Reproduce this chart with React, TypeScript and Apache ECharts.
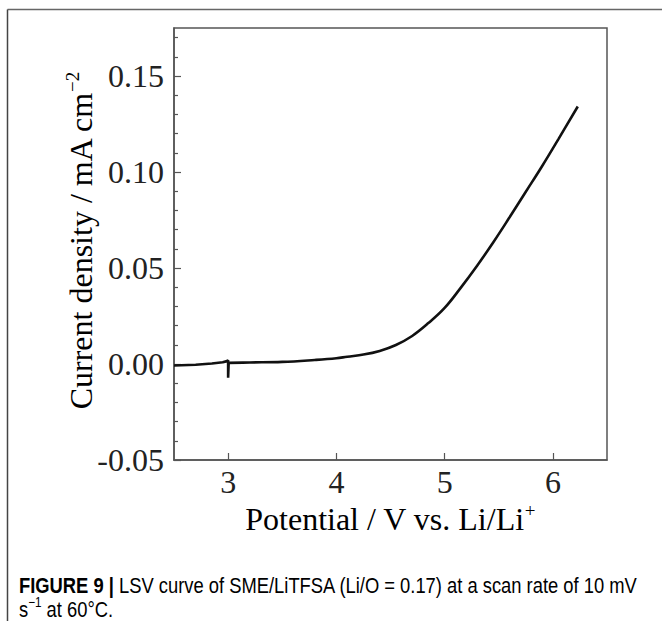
import React, { useEffect, useRef } from "react";
import * as echarts from "echarts";

// Potential (V vs. Li/Li+) and current density (mA cm^-2)
const potential = [
  2.5, 2.7, 2.85, 2.95, 2.99, 3.0, 3.0, 3.005, 3.2, 3.5, 3.8, 4.0, 4.1, 4.25,
  4.4, 4.55, 4.7, 4.85, 5.0, 5.15, 5.3, 5.45, 5.6, 5.75, 5.9, 6.05, 6.23,
];
const current = [
  -0.0008, -0.0004, 0.0003, 0.0009, 0.0015, 0.002, -0.0072, 0.0006, 0.0008,
  0.0011, 0.0021, 0.003, 0.0038, 0.0049, 0.0068, 0.0099, 0.0146, 0.0213,
  0.0292, 0.0398, 0.0512, 0.0634, 0.0764, 0.0897, 0.103, 0.117, 0.1341,
];
// index of the first point after the spike at 3 V (the curve is smooth from there on)
const SPIKE_END = 7;

const xTickValues = [3, 4, 5, 6];
const yTickValues = [-0.05, 0, 0.05, 0.1, 0.15];
const yMinorTickValues = [
  -0.04, -0.03, -0.02, -0.01, 0.01, 0.02, 0.03, 0.04, 0.06, 0.07, 0.08, 0.09,
  0.11, 0.12, 0.13, 0.14, 0.16, 0.17,
];

const xTitle = "Potential / V vs. Li/Li";
const xTitleSup = "+";
const yTitle = "Current density / mA cm";
const yTitleSup = "\u22122";
const captionBold = "FIGURE 9 |";
const captionLine1 = " LSV curve of SME/LiTFSA (Li/O = 0.17) at a scan rate of 10 mV";
const captionLine2a = "s";
const captionLine2Sup = "\u22121";
const captionLine2b = " at 60°C.";

const SERIF = "'Liberation Serif', 'Times New Roman', serif";
const SANS = "'Liberation Sans', Arial, sans-serif";
const AXIS_COLOR = "#555";
const CAPTION_SCALE_X = 0.835;

export default function App() {
  const ref = useRef<HTMLDivElement>(null);

  useEffect(() => {
    if (!ref.current) return;
    const chart = echarts.init(ref.current, null, { renderer: "svg" });
    const data = potential.map((p, i) => [p, current[i]]);
    const lineStyle = { color: "#111", width: 2.6 };

    chart.setOption({
      animation: false,
      backgroundColor: "#ffffff",
      grid: {
        left: 174,
        right: 55,
        top: 28,
        bottom: 161,
        show: true,
        borderColor: AXIS_COLOR,
        borderWidth: 1.5,
        backgroundColor: "transparent",
      },
      xAxis: {
        type: "value",
        min: 2.5,
        max: 6.5,
        axisLine: { show: true, onZero: false, lineStyle: { color: AXIS_COLOR, width: 1.5 } },
        axisTick: {
          show: true,
          inside: true,
          length: 7,
          customValues: xTickValues,
          lineStyle: { color: AXIS_COLOR, width: 1.2 },
        },
        axisLabel: {
          customValues: xTickValues,
          margin: 6,
          fontFamily: SERIF,
          fontSize: 32,
          color: "#222",
        },
        splitLine: { show: false },
      },
      yAxis: [
        {
          type: "value",
          position: "left",
          min: -0.05,
          max: 0.175,
          axisLine: { show: true, onZero: false, lineStyle: { color: AXIS_COLOR, width: 1.5 } },
          axisTick: {
            show: true,
            inside: true,
            length: 7,
            customValues: yTickValues,
            lineStyle: { color: AXIS_COLOR, width: 1.2 },
          },
          axisLabel: {
            customValues: yTickValues,
            margin: 10,
            fontFamily: SERIF,
            fontSize: 32,
            color: "#222",
            formatter: (v: number) => v.toFixed(2),
          },
          splitLine: { show: false },
        },
        {
          type: "value",
          position: "left",
          min: -0.05,
          max: 0.175,
          axisLine: { show: false },
          axisTick: {
            show: true,
            inside: true,
            length: 4,
            customValues: yMinorTickValues,
            lineStyle: { color: AXIS_COLOR, width: 1.2 },
          },
          axisLabel: { show: false },
          splitLine: { show: false },
        },
      ],
      series: [
        {
          type: "line",
          data: data.slice(0, SPIKE_END + 1),
          xAxisIndex: 0,
          yAxisIndex: 0,
          showSymbol: false,
          smooth: false,
          lineStyle,
        },
        {
          type: "line",
          data: data.slice(SPIKE_END),
          xAxisIndex: 0,
          yAxisIndex: 0,
          showSymbol: false,
          smooth: 0.4,
          lineStyle,
        },
      ],
      graphic: [
        {
          type: "line",
          shape: { x1: 7.5, y1: 9.5, x2: 662, y2: 9.5 },
          style: { stroke: "#666", lineWidth: 1.5 },
        },
        {
          type: "line",
          shape: { x1: 7.5, y1: 9.5, x2: 7.5, y2: 621 },
          style: { stroke: "#444", lineWidth: 1.5 },
        },
        {
          type: "text",
          x: 390,
          y: 518,
          style: {
            text: `{m|${xTitle}}{s|${xTitleSup}}`,
            align: "center",
            verticalAlign: "middle",
            rich: {
              m: { fontFamily: SERIF, fontSize: 32, color: "#222", verticalAlign: "bottom", lineHeight: 34 },
              s: { fontFamily: SERIF, fontSize: 19, color: "#222", verticalAlign: "top", lineHeight: 20 },
            },
          },
        },
        {
          type: "text",
          x: 80,
          y: 241,
          rotation: Math.PI / 2,
          style: {
            text: `{m|${yTitle}}{s|${yTitleSup}}`,
            align: "center",
            verticalAlign: "middle",
            rich: {
              m: { fontFamily: SERIF, fontSize: 32, color: "#222", verticalAlign: "bottom", lineHeight: 34 },
              s: { fontFamily: SERIF, fontSize: 19, color: "#222", verticalAlign: "top", lineHeight: 20 },
            },
          },
        },
        {
          type: "text",
          x: 19,
          y: 585,
          scaleX: CAPTION_SCALE_X,
          style: {
            text: `{b|${captionBold}}{n|${captionLine1}}`,
            align: "left",
            verticalAlign: "middle",
            rich: {
              b: { fontFamily: SANS, fontSize: 22, fontWeight: "bold", color: "#333" },
              n: { fontFamily: SANS, fontSize: 22, color: "#333" },
            },
          },
        },
        {
          type: "text",
          x: 19,
          y: 608,
          scaleX: CAPTION_SCALE_X,
          style: {
            text: `{n|${captionLine2a}}{s|${captionLine2Sup}}{n|${captionLine2b}}`,
            align: "left",
            verticalAlign: "middle",
            rich: {
              n: { fontFamily: SANS, fontSize: 22, color: "#333", verticalAlign: "bottom", lineHeight: 25 },
              s: { fontFamily: SANS, fontSize: 14, color: "#333", verticalAlign: "top", lineHeight: 14 },
            },
          },
        },
      ],
    });

    return () => chart.dispose();
  }, []);

  return (
    <div
      ref={ref}
      style={{ position: "absolute", left: 0, top: 0, width: 662, height: 621 }}
    />
  );
}
